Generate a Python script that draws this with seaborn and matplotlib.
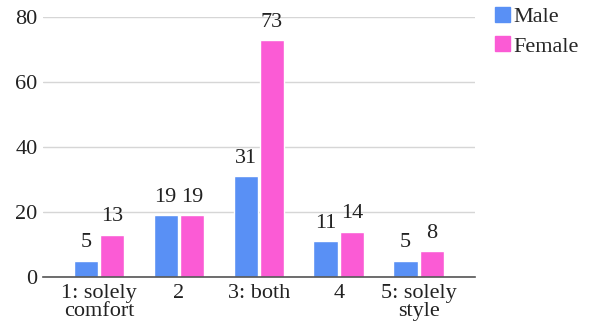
import matplotlib
matplotlib.use("Agg")
import matplotlib.pyplot as plt
import seaborn as sns
import pandas as pd

categories = ["1: solely\ncomfort", "2", "3: both", "4", "5: solely\nstyle"]
male = [5, 19, 31, 11, 5]
female = [13, 19, 73, 14, 8]
series = ["Male", "Female"]
colors = ["#5990f5", "#fb5bd5"]

df = pd.DataFrame({
    "category": categories * 2,
    "count": male + female,
    "gender": [series[0]] * len(categories) + [series[1]] * len(categories),
})

sns.set_theme(style="white")
plt.rcParams["font.family"] = ["Liberation Serif", "DejaVu Serif"]

fig = plt.figure(figsize=(5.89, 3.29), dpi=100)
ax = fig.add_axes([0.073, 0.158, 0.733, 0.79])

sns.barplot(data=df, x="category", y="count", hue="gender",
            palette=colors, width=0.66, gap=0.08, ax=ax,
            saturation=1, legend=False)

for cont in ax.containers:
    ax.bar_label(cont, padding=6, fontsize=16, color="#222222")

ax.set_xlim(-0.7, 4.7)
ax.set_ylim(0, 80)
ax.set_yticks([0, 20, 40, 60, 80])
ax.yaxis.grid(True, color="#d6d6d6", linewidth=1)
ax.set_axisbelow(True)
for s in ["top", "right", "left"]:
    ax.spines[s].set_visible(False)
ax.spines["bottom"].set_color("#555555")
ax.spines["bottom"].set_linewidth(1.2)
ax.tick_params(axis="both", length=0, labelsize=16, colors="#222222")
ax.tick_params(axis="x", pad=5)
ax.tick_params(axis="y", pad=4)
ax.set_xlabel("")
ax.set_ylabel("")
for lbl in ax.get_xticklabels():
    lbl.set_linespacing(0.9)

handles = [plt.Rectangle((0, 0), 1, 1, color=c) for c in colors]
fig.legend(handles, series, loc="upper left", bbox_to_anchor=(0.826, 1.005),
           frameon=False, fontsize=16, handlelength=0.65, handleheight=0.65,
           handletextpad=0.15, labelspacing=0.4, borderaxespad=0)

fig.savefig("out.png", dpi=100)
